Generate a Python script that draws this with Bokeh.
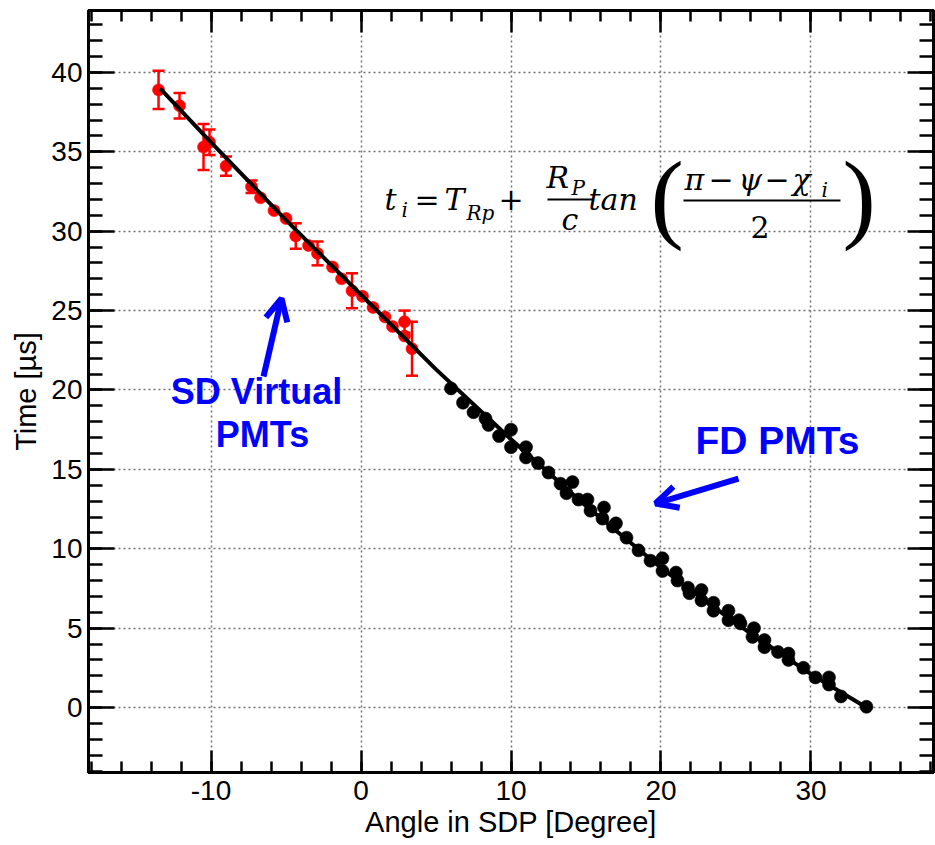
from bokeh.plotting import figure
from bokeh.models import (Range1d, LinearAxis, SingleIntervalTicker, Whisker, TeeHead,
                          ColumnDataSource, Label, Arrow, OpenHead)
from bokeh.embed import file_html
from bokeh.resources import INLINE

# ---------------- data ----------------
sd_angle = [-13.5, -12.1, -10.5, -10.1, -9.0, -7.3, -6.7, -5.8, -5.0, -4.35, -3.5, -2.9,
            -1.9, -1.3, -0.6, 0.1, 0.8, 1.6, 2.1, 2.9, 2.9, 3.4]
sd_time = [38.9, 37.9, 35.3, 35.6, 34.1, 32.8, 32.1, 31.3, 30.8, 29.7, 29.1, 28.6,
           27.75, 27.0, 26.25, 25.9, 25.2, 24.6, 24.0, 24.3, 23.4, 22.6]
sd_err = [1.2, 0.8, 1.45, 0.8, 0.6, 0.4, 0.0, 0.0, 0.0, 0.8, 0.0, 0.75,
          0.0, 0.0, 1.1, 0.0, 0.0, 0.0, 0.0, 0.7, 0.0, 1.7]

fd_angle = [6.0, 6.8, 7.5, 8.3, 8.5, 9.2, 10.0, 10.0, 11.0, 11.0, 11.8, 12.5, 13.3, 14.1,
            13.7, 14.5, 15.1, 15.3, 16.2, 16.1, 16.8, 17.0, 17.7, 18.5, 19.3, 20.1, 20.1,
            21.0, 21.1, 21.8, 21.9, 22.7, 22.7, 23.5, 23.5, 24.5, 24.5, 25.2, 25.3, 26.2,
            26.1, 26.9, 26.9, 27.8, 28.5, 28.5, 29.5, 30.3, 31.2, 31.2, 32.0, 33.7]
fd_time = [20.1, 19.2, 18.6, 18.2, 17.8, 17.1, 17.5, 16.4, 16.4, 15.75, 15.4, 14.8, 14.1, 14.2,
           13.5, 13.1, 13.1, 12.4, 12.6, 11.9, 11.4, 11.6, 10.7, 9.9, 9.25, 9.4, 8.6,
           8.5, 8.0, 7.55, 7.2, 7.4, 6.75, 6.6, 6.1, 6.1, 5.5, 5.5, 5.3, 5.0,
           4.45, 4.25, 3.8, 3.5, 3.4, 3.0, 2.5, 1.9, 1.9, 1.45, 0.7, 0.05]

fit_angle = [-13.4, -10, -5, 0, 5, 10, 15, 20, 25, 30, 33.7]
fit_time = [39.0, 35.6, 30.7, 26.0, 21.3, 16.9, 12.7, 8.8, 5.3, 2.1, 0.0]

x_title = "Angle in SDP [Degree]"
y_title = "Time [µs]"

# ---------------- figure ----------------
p = figure(width=935, height=845, output_backend="svg", toolbar_location=None,
           x_range=Range1d(-18.17, 38.17), y_range=Range1d(-4.09, 43.9),
           min_border_left=88, min_border_right=2, min_border_top=10, min_border_bottom=73,
           background_fill_color="white", border_fill_color="white")
p.outline_line_color = "black"
p.outline_line_width = 3

xt = SingleIntervalTicker(interval=10, num_minor_ticks=5)
yt = SingleIntervalTicker(interval=5, num_minor_ticks=5)

FONT = "Liberation Sans"

def style_axis(ax, ticker, major_len, minor_len, labels=True):
    ax.ticker = ticker
    ax.axis_line_color = "black"
    ax.axis_line_width = 3
    ax.major_tick_in = major_len
    ax.major_tick_out = 0
    ax.minor_tick_in = minor_len
    ax.minor_tick_out = 0
    ax.major_tick_line_width = 2.5
    ax.minor_tick_line_width = 2.5
    ax.major_tick_line_color = "black"
    ax.minor_tick_line_color = "black"
    ax.major_label_text_font = FONT
    ax.major_label_text_color = "black"
    ax.axis_label_text_font = FONT
    ax.axis_label_text_font_style = "normal"
    ax.axis_label_text_color = "black"
    if not labels:
        ax.major_label_text_font_size = "1px"
        ax.major_label_text_color = None
        ax.major_label_text_alpha = 0
        ax.major_label_standoff = 0

p.xaxis[0].axis_label = x_title
p.yaxis[0].axis_label = y_title
style_axis(p.xaxis[0], xt, 22, 11)
style_axis(p.yaxis[0], yt, 26, 14)
p.xaxis[0].major_label_text_font_size = "28px"
p.yaxis[0].major_label_text_font_size = "28px"
p.xaxis[0].axis_label_text_font_size = "29px"
p.yaxis[0].axis_label_text_font_size = "29px"
p.xaxis[0].major_label_standoff = 8
p.yaxis[0].major_label_standoff = 6
p.xaxis[0].axis_label_standoff = 3
p.yaxis[0].axis_label_standoff = 6
p.xaxis[0].major_label_overrides = {-10: "-10"}

top_ax = LinearAxis()
right_ax = LinearAxis()
style_axis(top_ax, SingleIntervalTicker(interval=10, num_minor_ticks=5), 22, 11, labels=False)
style_axis(right_ax, SingleIntervalTicker(interval=5, num_minor_ticks=5), 26, 14, labels=False)
p.add_layout(top_ax, "above")
p.add_layout(right_ax, "right")

for g, t in ((p.xgrid[0], xt), (p.ygrid[0], yt)):
    g.ticker = t
    g.grid_line_color = "#707070"
    g.grid_line_dash = "2 3"
    g.grid_line_width = 1.5

# ---------------- data marks ----------------
err_x = [a for a, e in zip(sd_angle, sd_err) if e > 0]
err_lo = [t - e for t, e in zip(sd_time, sd_err) if e > 0]
err_hi = [t + e for t, e in zip(sd_time, sd_err) if e > 0]
err_src = ColumnDataSource(dict(x=err_x, lo=err_lo, hi=err_hi))
p.add_layout(Whisker(source=err_src, base="x", lower="lo", upper="hi",
                     line_color="red", line_width=2.5,
                     upper_head=TeeHead(size=12, line_color="red", line_width=2.5),
                     lower_head=TeeHead(size=12, line_color="red", line_width=2.5)))

p.scatter(sd_angle, sd_time, size=12, fill_color="red", line_color="red", line_alpha=0.6)
p.scatter(fd_angle, fd_time, size=13, fill_color="black", line_color="black", line_alpha=0.6)
p.line(fit_angle, fit_time, line_color="black", line_width=4)

# ---------------- annotations ----------------
def dx(px):
    return (px - 360.5) / 15.0

def dy(py):
    return (707.0 - py) / 15.875

def put(txt, lx, by, sz, style="normal", font=FONT, color="black", align="left"):
    # by = wanted alphabetic baseline in pixels; renderer places text ~0.38em lower
    p.add_layout(Label(x=dx(lx), y=dy(by - 0.38 * sz), text=txt, text_align=align,
                       text_baseline="alphabetic", text_font=font, text_font_style=style,
                       text_font_size=f"{sz}px", text_color=color))

put("SD Virtual", 256, 405, 36, "bold", FONT, "#0000ff", "center")
put("PMTs", 262, 448, 36, "bold", FONT, "#0000ff", "center")
put("FD PMTs", 695, 455, 39, "bold", FONT, "#0000ff", "left")

p.add_layout(Arrow(x_start=dx(263), y_start=dy(376), x_end=dx(281), y_end=dy(298),
                   line_color="#0000ff", line_width=6,
                   end=OpenHead(size=22, line_color="#0000ff", line_width=6)))
p.add_layout(Arrow(x_start=dx(738), y_start=dy(478), x_end=dx(655), y_end=dy(503),
                   line_color="#0000ff", line_width=6,
                   end=OpenHead(size=22, line_color="#0000ff", line_width=6)))

# equation pieces: (text, left px, baseline px, size, style, font)
SERIF = "DejaVu Serif"
eq = [
    ("t", 384, 210, 30, "italic", SERIF),
    ("i", 401, 217, 20, "italic", SERIF),
    ("=", 414, 210, 30, "normal", SERIF),
    ("T", 444, 210, 30, "italic", SERIF),
    ("Rp", 466, 220, 20, "italic", SERIF),
    ("+", 498, 210, 30, "normal", SERIF),
    ("R", 546, 188, 30, "italic", SERIF),
    ("P", 571, 195, 20, "italic", SERIF),
    ("c", 561, 230, 30, "italic", SERIF),
    ("tan", 588, 210, 30, "italic", SERIF),
    ("(", 650, 234, 100, "normal", "Liberation Serif"),
    ("π", 684, 190, 30, "italic", SERIF),
    ("−", 708, 190, 30, "normal", SERIF),
    ("ψ", 738, 190, 30, "italic", SERIF),
    ("−", 764, 190, 30, "normal", SERIF),
    ("χ", 792, 190, 30, "italic", SERIF),
    ("i", 821, 197, 20, "italic", SERIF),
    ("2", 750, 238, 30, "normal", SERIF),
    (")", 842, 234, 100, "normal", "Liberation Serif"),
]
for txt, lx, by, sz, st, fn in eq:
    put(txt, lx, by, sz, st, fn)

# fraction bars
p.segment(x0=[dx(547), dx(683)], y0=[dy(199), dy(200)], x1=[dx(593), dx(840)],
          y1=[dy(199), dy(200)], line_color="black", line_width=2)

open("out.html", "w").write(file_html(p, INLINE))
